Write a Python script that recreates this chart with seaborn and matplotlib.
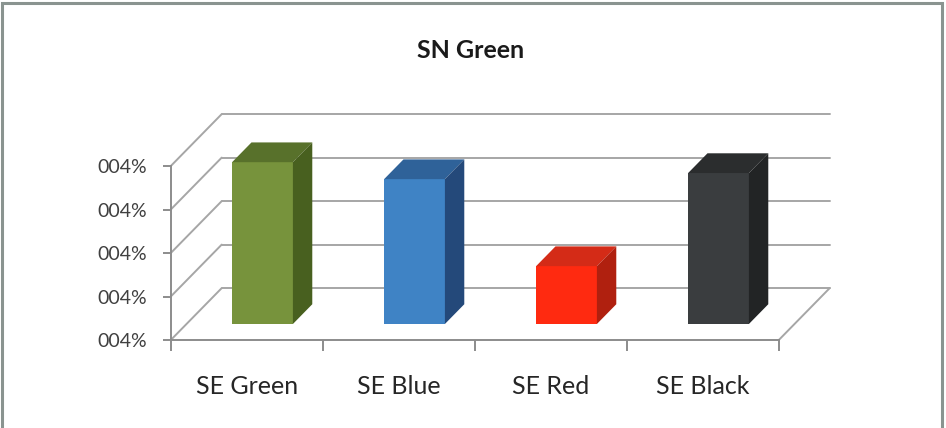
import matplotlib
matplotlib.use("Agg")
import matplotlib.pyplot as plt
import seaborn as sns
from matplotlib.patches import Polygon, Rectangle

# chart data
categories = ["SE Green", "SE Blue", "SE Red", "SE Black"]
values = [3.72, 3.33, 1.33, 3.47]
ytick_labels = ["004%", "004%", "004%", "004%", "004%"]
title = "SN Green"

front_colors = ["#77933c", "#3f83c5", "#ff2a10", "#3a3d3f"]
top_colors = ["#58712b", "#2f6299", "#d42b17", "#2b2d2e"]
side_colors = ["#48601f", "#24497a", "#b0200f", "#222425"]

# layout of the fake 3D box (pixels -> data units)
W, H = 946, 428
sx, sy = 152.0, 43.5          # px per category / per value unit
ox, oy = 262.5, 324.0         # px of first bar's front base
DX, DY = 51 / sx, 52 / sy     # floor depth in data units
bar_front, bar_depth = 0.31, 0.38
grid_c, axis_c = "#a6a6a6", "#8c8c8c"

sns.set_style("white")
plt.rcParams["font.family"] = ["Lato", "DejaVu Sans"]

fig = plt.figure(figsize=(W / 100, H / 100), dpi=100)
ax = fig.add_axes([0, 0, 1, 1])
ax.set_facecolor("white")

sns.barplot(x=categories, y=values, hue=categories, palette=front_colors,
            legend=False, width=0.4, saturation=1, errorbar=None,
            linewidth=0, ax=ax, zorder=3)

n = len(categories)
fx = -0.5 - bar_front * DX          # front-left corner
fr = n - 0.5 - bar_front * DX       # front-right corner
fy = -bar_front * DY                # front floor line

# walls and floor
for k in range(len(ytick_labels)):
    y = fy + k
    ax.plot([fx, fx + DX], [y, y + DY], color=grid_c, lw=1.4, zorder=1)
    ax.plot([fx + DX, fr + DX], [y + DY, y + DY], color=grid_c, lw=1.4, zorder=1)
ax.plot([fr, fr + DX], [fy, fy + DY], color=grid_c, lw=1.4, zorder=1)

# top and side faces of every bar
bx, by = bar_depth * DX, bar_depth * DY
for p, tc, sc in zip(ax.patches, top_colors, side_colors):
    x, w, h = p.get_x(), p.get_width(), p.get_height()
    ax.add_patch(Polygon([(x, h), (x + w, h), (x + w + bx, h + by), (x + bx, h + by)],
                         closed=True, facecolor=tc, edgecolor="none", zorder=3))
    ax.add_patch(Polygon([(x + w, 0), (x + w + bx, by), (x + w + bx, h + by), (x + w, h)],
                         closed=True, facecolor=sc, edgecolor="none", zorder=3))

ax.set_xlim(-ox / sx, (W - ox) / sx)
ax.set_ylim((oy - H) / sy, oy / sy)

for s in ["top", "right"]:
    ax.spines[s].set_visible(False)
ax.spines["left"].set_position(("data", fx))
ax.spines["left"].set_bounds(fy, fy + len(ytick_labels) - 1)
ax.spines["bottom"].set_position(("data", fy))
ax.spines["bottom"].set_bounds(fx, fr)
for s in ["left", "bottom"]:
    ax.spines[s].set_color(axis_c)
    ax.spines[s].set_linewidth(1.4)
    ax.spines[s].set_zorder(2)

ax.set_yticks([fy + k for k in range(len(ytick_labels))], ytick_labels)
ax.set_xticks([i - bar_front * DX for i in range(n)], categories)
ax.set_xticks([fx + i for i in range(n + 1)], minor=True)
ax.tick_params(axis="y", left=True, direction="out", length=6, width=1.4,
               color=axis_c, pad=11, labelsize=14, labelcolor="#404040")
ax.tick_params(axis="x", which="major", bottom=True, length=0, pad=25,
               labelsize=18, labelcolor="#262626")
ax.tick_params(axis="x", which="minor", bottom=True, direction="out",
               length=8, width=1.4, color=axis_c)
ax.set_xlabel("")
ax.set_ylabel("")

fig.text(471 / W, 1 - 51 / H, title, ha="center", va="center",
         fontsize=18, fontweight="bold", color="#1a1a1a")
fig.add_artist(Rectangle((2 / W, -0.05), 940 / W, (H - 3) / H + 0.05,
                         transform=fig.transFigure, fill=False,
                         edgecolor="#8a9490", lw=2.2))

fig.savefig("out.png", dpi=100)
